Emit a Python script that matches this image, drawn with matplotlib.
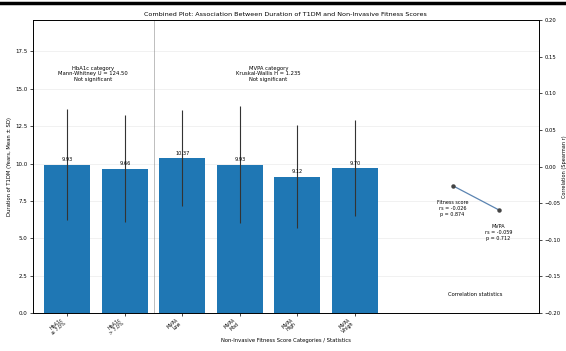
import matplotlib.pyplot as plt
from matplotlib.lines import Line2D

# group means / SDs for diabetes duration
categories = ["HbA1c\n≤ 7.0%", "HbA1c\n> 7.0%", "MVPA\nLow", "MVPA\nMod", "MVPA\nHigh", "MVPA\nV.high"]
means = [9.93, 9.66, 10.37, 9.93, 9.12, 9.70]
sds = [3.7, 3.6, 3.2, 3.9, 3.45, 3.2]

# spearman correlations
corr_names = ["Fitness score", "MVPA"]
corr_r = [-0.026, -0.059]
corr_p = [0.874, 0.712]
corr_x = [6.7, 7.5]

fig = plt.figure(figsize=(5.66, 3.51), dpi=100)
ax = fig.add_axes([0.058, 0.108, 0.894, 0.835])
fig.add_artist(Line2D([0, 1], [0.992, 0.992], color="black", lw=2.5, transform=fig.transFigure))

xs = list(range(len(categories)))
bars = ax.bar(xs, means, width=0.8, color="#1f77b4", zorder=2)
ax.errorbar(xs, means, yerr=sds, fmt="none", ecolor="#333333", elinewidth=0.8, zorder=3)
for b, m in zip(bars, means):
    ax.text(b.get_x() + b.get_width() / 2, m + 0.15, f"{m:.2f}", ha="center", va="bottom", fontsize=3.6)

ax.axvline(1.5, color="gray", lw=0.6, alpha=0.6)
ax.set_xlim(-0.6, 8.2)
ax.set_ylim(0, 19.6)
ax.set_yticks([0, 2.5, 5, 7.5, 10, 12.5, 15, 17.5])
ax.set_xticks(xs)
ax.set_xticklabels(categories, rotation=40, ha="right", fontsize=3.4, linespacing=1.0)
ax.tick_params(axis="y", labelsize=4, length=2, width=0.5, pad=2)
ax.tick_params(axis="x", length=2, width=0.5, pad=1)
ax.grid(axis="y", lw=0.4, alpha=0.3)
ax.set_ylabel("Duration of T1DM (Years, Mean ± SD)", fontsize=3.8, labelpad=2)
ax.set_xlabel("Non-Invasive Fitness Score Categories / Statistics", fontsize=3.8, labelpad=1)
ax.set_title("Combined Plot: Association Between Duration of T1DM and Non-Invasive Fitness Scores", fontsize=4.6, pad=3)

ax.text(0.45, 16.0, "HbA1c category\nMann-Whitney U = 124.50\nNot significant", ha="center", va="center", fontsize=3.8)
ax.text(3.5, 16.0, "MVPA category\nKruskal-Wallis H = 1.235\nNot significant", ha="center", va="center", fontsize=3.8)

ax2 = ax.twinx()
ax2.plot(corr_x, corr_r, color="#5b84b1", lw=0.9, marker="o", markersize=2.2,
         markerfacecolor="#444444", markeredgecolor="#444444")
for x, n, r, p in zip(corr_x, corr_names, corr_r, corr_p):
    ax2.text(x, r - 0.02, f"{n}\nrs = {r:.3f}\np = {p:.3f}", ha="center", va="top", fontsize=3.5)
ax2.text(7.1, -0.175, "Correlation statistics", ha="center", va="center", fontsize=3.8)
ax2.set_ylim(-0.2, 0.2)
ax2.set_yticks([-0.2, -0.15, -0.1, -0.05, 0, 0.05, 0.1, 0.15, 0.2])
ax2.tick_params(axis="y", labelsize=3.8, length=2, width=0.5, pad=2)
ax2.set_ylabel("Correlation (Spearman r)", fontsize=3.6, labelpad=1)

for a in (ax, ax2):
    for s in a.spines.values():
        s.set_linewidth(0.6)

fig.savefig("out.png", dpi=100)
